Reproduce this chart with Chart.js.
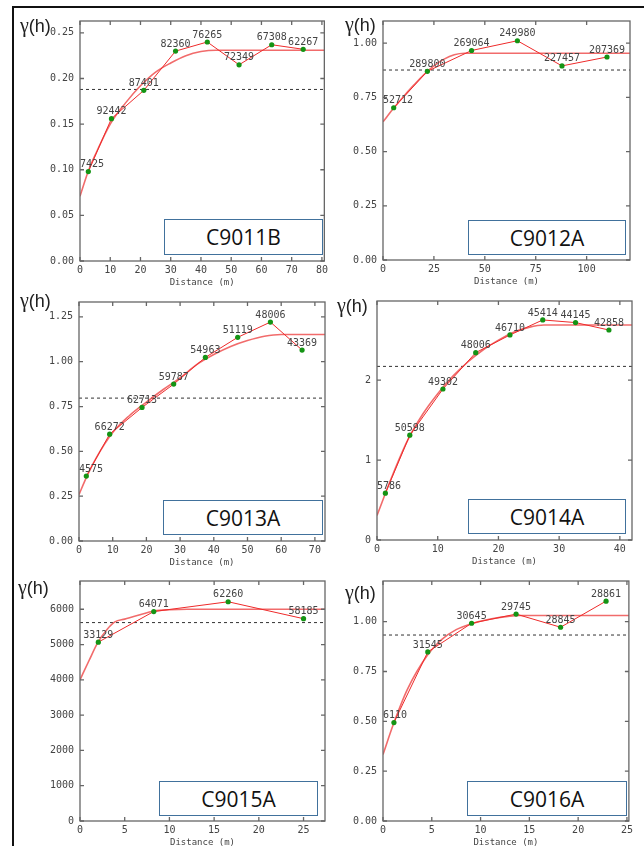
<!DOCTYPE html>
<html>
<head>
<meta charset="utf-8">
<script src="https://cdn.jsdelivr.net/npm/chart.js@4.4.0/dist/chart.umd.min.js"></script>
<style>
  body { margin: 0; background: #fff; width: 644px; height: 846px; position: relative; overflow: hidden; }
  .panel { position: absolute; }
  .gam { position: absolute; font: 18px "Liberation Sans", sans-serif; line-height: 18px; color: #222; white-space: nowrap; }
  .gam span { font-family: "Liberation Serif", serif; font-size: 20px; }
  .tag { position: absolute; box-sizing: border-box; border: 1px solid #41719c; background: #fff;
         font: 21px "Open Sans", sans-serif; color: #111; display: flex; align-items: center; justify-content: center; }
  .rule { position: absolute; background: #111; }
</style>
</head>
<body>
<div class="rule" style="left:12px;top:6px;width:632px;height:2px"></div>
<div class="rule" style="left:12px;top:6px;width:2px;height:840px"></div>

<script>
// --- C9011B ---
const c9011bLag = [2.75, 10.4, 21.1, 31.6, 42.1, 52.6, 63.4, 73.8];
const c9011bGamma = [0.098, 0.156, 0.187, 0.230, 0.240, 0.215, 0.237, 0.232];
const c9011bPairs = ['7425', '92442', '87401', '82360', '76265', '72349', '67308', '62267'];
const c9011bModelLag = [0, 2.7, 5, 10, 15, 20, 25, 30, 35, 40, 45, 82];
const c9011bModelGamma = [0.071, 0.098, 0.116, 0.150, 0.173, 0.192, 0.207, 0.217, 0.225, 0.2295, 0.231, 0.231];
const c9011bVariance = 0.188;

// --- C9012A ---
const c9012aLag = [5.25, 21.8, 43.5, 66.0, 87.9, 110];
const c9012aGamma = [0.702, 0.870, 0.966, 1.011, 0.895, 0.936];
const c9012aPairs = ['52712', '289800', '269064', '249980', '227457', '207369'];
const c9012aModelLag = [0, 5, 10, 15, 20, 25, 30, 35, 40, 122];
const c9012aModelGamma = [0.637, 0.697, 0.753, 0.805, 0.854, 0.895, 0.926, 0.946, 0.953, 0.953];
const c9012aVariance = 0.876;

// --- C9013A ---
const c9013aLag = [2.17, 9.1, 18.7, 28.1, 37.5, 47.1, 56.8, 66.2];
const c9013aGamma = [0.362, 0.596, 0.745, 0.875, 1.024, 1.136, 1.221, 1.065];
const c9013aPairs = ['4575', '66272', '62713', '59787', '54963', '51119', '48006', '43369'];
const c9013aModelLag = [0, 2.2, 5, 10, 15, 20, 25, 30, 35, 40, 45, 50, 55, 60, 74];
const c9013aModelGamma = [0.259, 0.355, 0.46, 0.605, 0.70, 0.775, 0.845, 0.91, 0.985, 1.04, 1.085, 1.118, 1.142, 1.152, 1.152];
const c9013aVariance = 0.797;

// --- C9014A ---
const c9014aLag = [1.38, 5.4, 10.86, 16.26, 21.9, 27.3, 32.7, 38.2];
const c9014aGamma = [0.586, 1.311, 1.889, 2.344, 2.565, 2.753, 2.72, 2.627];
const c9014aPairs = ['5786', '50598', '49302', '48006', '46710', '45414', '44145', '42858'];
const c9014aModelLag = [0, 2.5, 5, 7.5, 10, 12.5, 15, 17.5, 20, 22.5, 25, 27.5, 43];
const c9014aModelGamma = [0.307, 0.80, 1.24, 1.57, 1.83, 2.05, 2.23, 2.38, 2.50, 2.60, 2.66, 2.69, 2.69];
const c9014aVariance = 2.172;

// --- C9015A ---
const c9015aLag = [2.05, 8.25, 16.57, 25.0];
const c9015aGamma = [5068, 5935, 6212, 5732];
const c9015aPairs = ['33129', '64071', '62260', '58185'];
const c9015aModelLag = [0, 1, 2, 3, 3.9, 5, 6.5, 8.3, 10, 12, 28];
const c9015aModelGamma = [4000, 4540, 5060, 5420, 5640, 5720, 5830, 5950, 5985, 6000, 6000];
const c9015aVariance = 5622;

// --- C9016A ---
const c9016aLag = [1.12, 4.59, 9.08, 13.64, 18.2, 22.86];
const c9016aGamma = [0.494, 0.848, 0.992, 1.038, 0.972, 1.103];
const c9016aPairs = ['6110', '31545', '30645', '29745', '28845', '28861'];
const c9016aModelLag = [0, 1.1, 2.5, 4.6, 6, 7.5, 9.1, 11, 13, 14, 26];
const c9016aModelGamma = [0.334, 0.49, 0.66, 0.835, 0.91, 0.96, 0.99, 1.013, 1.028, 1.031, 1.031];
const c9016aVariance = 0.933;

// layout of each panel (plot box in page pixels)
const panels = [
  { name: 'C9011B', lag: c9011bLag, gamma: c9011bGamma, pairs: c9011bPairs, mLag: c9011bModelLag, mGamma: c9011bModelGamma, variance: c9011bVariance,
    L: 80, T: 15, R: 325, B: 261, xMax: 80.8, yMax: 0.263, xStep: 10, yStep: 0.05, dec: 2, gam: [20, 16], tag: [164, 219, 159, 36] },
  { name: 'C9012A', lag: c9012aLag, gamma: c9012aGamma, pairs: c9012aPairs, mLag: c9012aModelLag, mGamma: c9012aModelGamma, variance: c9012aVariance,
    L: 383, T: 15, R: 630, B: 260, xMax: 121.3, yMax: 1.102, xStep: 25, yStep: 0.25, dec: 2, gam: [345, 15], tag: [468, 220, 158, 35] },
  { name: 'C9013A', lag: c9013aLag, gamma: c9013aGamma, pairs: c9013aPairs, mLag: c9013aModelLag, mGamma: c9013aModelGamma, variance: c9013aVariance,
    L: 79, T: 296, R: 325, B: 541, xMax: 73, yMax: 1.333, xStep: 10, yStep: 0.25, dec: 2, gam: [20, 291], tag: [163, 500, 160, 35] },
  { name: 'C9014A', lag: c9014aLag, gamma: c9014aGamma, pairs: c9014aPairs, mLag: c9014aModelLag, mGamma: c9014aModelGamma, variance: c9014aVariance,
    L: 377, T: 295, R: 632, B: 540, xMax: 42, yMax: 2.99, xStep: 10, yStep: 1, dec: 0, gam: [337, 296], tag: [468, 499, 158, 35] },
  { name: 'C9015A', lag: c9015aLag, gamma: c9015aGamma, pairs: c9015aPairs, mLag: c9015aModelLag, mGamma: c9015aModelGamma, variance: c9015aVariance,
    L: 80, T: 575, R: 325, B: 821, xMax: 27.4, yMax: 6800, xStep: 5, yStep: 1000, dec: 0, gam: [18, 578], tag: [159, 781, 159, 35] },
  { name: 'C9016A', lag: c9016aLag, gamma: c9016aGamma, pairs: c9016aPairs, mLag: c9016aModelLag, mGamma: c9016aModelGamma, variance: c9016aVariance,
    L: 383, T: 575, R: 630, B: 821, xMax: 25.2, yMax: 1.204, xStep: 5, yStep: 0.25, dec: 2, gam: [345, 583], tag: [467, 781, 160, 35] }
];

Chart.defaults.font.family = '"DejaVu Sans Mono", monospace';
Chart.defaults.font.size = 10;
Chart.defaults.color = '#444';

// plain ticks at every step from 0 up to the axis max
function stepTicks(step, max) {
  const out = [];
  for (let i = 0; i * step <= max + 1e-9; i++) out.push({ value: +(i * step).toFixed(6) });
  return out;
}

// box + inward ticks on all four sides
const frame = {
  id: 'frame',
  afterDraw(chart) {
    const { ctx, chartArea: a, scales: { x, y } } = chart;
    ctx.save();
    ctx.strokeStyle = '#666';
    ctx.lineWidth = 1.3;
    ctx.strokeRect(a.left, a.top, a.right - a.left, a.bottom - a.top);
    ctx.beginPath();
    x.ticks.forEach(t => {
      const px = x.getPixelForValue(t.value);
      ctx.moveTo(px, a.bottom); ctx.lineTo(px, a.bottom - 4);
      ctx.moveTo(px, a.top); ctx.lineTo(px, a.top + 4);
    });
    y.ticks.forEach(t => {
      const py = y.getPixelForValue(t.value);
      ctx.moveTo(a.left, py); ctx.lineTo(a.left + 4, py);
      ctx.moveTo(a.right, py); ctx.lineTo(a.right - 4, py);
    });
    ctx.stroke();
    ctx.restore();
  }
};

// pair counts written above the experimental points
const pairLabels = {
  id: 'pairLabels',
  afterDatasetsDraw(chart, args, opts) {
    const { ctx, chartArea: a } = chart;
    const meta = chart.getDatasetMeta(0);
    ctx.save();
    ctx.font = '10px "DejaVu Sans Mono", monospace';
    ctx.fillStyle = '#444';
    ctx.textAlign = 'center';
    ctx.textBaseline = 'bottom';
    meta.data.forEach((pt, i) => {
      const txt = opts.labels[i];
      const w = ctx.measureText(txt).width;
      let cx = pt.x;
      if (cx - w / 2 < a.left) cx = a.left + w / 2;
      if (cx + w / 2 > a.right) cx = a.right - w / 2;
      ctx.fillText(txt, cx, pt.y - 2);
    });
    ctx.restore();
  }
};

panels.forEach(p => {
  const yAxisW = 50, padTop = 6, padRight = 6, xAxisH = 30;
  const div = document.createElement('div');
  div.className = 'panel';
  div.style.left = (p.L - yAxisW) + 'px';
  div.style.top = (p.T - padTop) + 'px';
  div.style.width = (p.R - p.L + yAxisW + padRight) + 'px';
  div.style.height = (p.B - p.T + padTop + xAxisH) + 'px';
  const canvas = document.createElement('canvas');
  div.appendChild(canvas);
  document.body.appendChild(div);

  const g = document.createElement('div');
  g.className = 'gam';
  g.style.left = p.gam[0] + 'px';
  g.style.top = p.gam[1] + 'px';
  g.innerHTML = '<span>γ</span>(h)';
  document.body.appendChild(g);

  const tag = document.createElement('div');
  tag.className = 'tag';
  tag.style.left = p.tag[0] + 'px';
  tag.style.top = p.tag[1] + 'px';
  tag.style.width = p.tag[2] + 'px';
  tag.style.height = p.tag[3] + 'px';
  tag.textContent = p.name;
  document.body.appendChild(tag);

  new Chart(canvas, {
    type: 'scatter',
    data: {
      datasets: [{
        data: p.lag.map((v, i) => ({ x: v, y: p.gamma[i] })),
        showLine: true,
        borderColor: '#ee2a2a',
        borderWidth: 1,
        pointRadius: 2.6,
        pointBorderWidth: 0,
        pointBackgroundColor: '#149414',
        order: 1
      }, {
        data: p.mLag.map((v, i) => ({ x: v, y: p.mGamma[i] })),
        showLine: true,
        borderColor: 'rgba(238, 70, 70, 0.8)',
        borderWidth: 1.6,
        pointRadius: 0,
        cubicInterpolationMode: 'monotone',
        order: 2
      }, {
        data: [{ x: 0, y: p.variance }, { x: p.xMax, y: p.variance }],
        showLine: true,
        borderColor: '#333',
        borderWidth: 1,
        borderDash: [3, 3],
        pointRadius: 0,
        order: 3
      }]
    },
    options: {
      responsive: true,
      maintainAspectRatio: false,
      animation: false,
      layout: { padding: { top: padTop, right: padRight, left: 0, bottom: 0 } },
      plugins: {
        legend: { display: false },
        tooltip: { enabled: false },
        pairLabels: { labels: p.pairs }
      },
      scales: {
        x: {
          type: 'linear',
          min: 0,
          max: p.xMax,
          grid: { display: false, drawTicks: false },
          border: { display: false },
          ticks: { padding: 3, maxRotation: 0, autoSkip: false },
          afterBuildTicks: s => { s.ticks = stepTicks(p.xStep, p.xMax); },
          title: { display: true, text: 'Distance (m)', font: { size: 9 }, padding: { top: 0, bottom: 3 } },
          afterFit: s => { s.height = xAxisH; }
        },
        y: {
          min: 0,
          max: p.yMax,
          grid: { display: false, drawTicks: false },
          border: { display: false },
          ticks: { padding: 6, autoSkip: false, callback: v => Number(v).toFixed(p.dec) },
          afterBuildTicks: s => { s.ticks = stepTicks(p.yStep, p.yMax); },
          afterFit: s => { s.width = yAxisW; }
        }
      }
    },
    plugins: [frame, pairLabels]
  });
});
</script>
</body>
</html>
